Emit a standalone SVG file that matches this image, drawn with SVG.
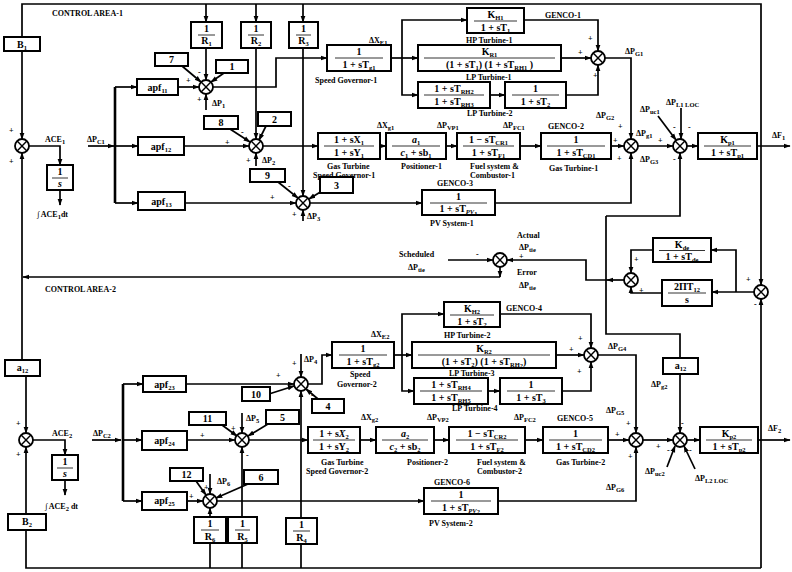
<svg xmlns="http://www.w3.org/2000/svg" xmlns:xlink="http://www.w3.org/1999/xlink" width="792" height="572" viewBox="0 0 792 572">
<style>
text{font-family:"Liberation Serif","DejaVu Serif",serif;font-weight:bold;fill:#000}
.b{font-size:10px;text-anchor:middle}
.l{font-size:8px}
.s{font-size:6.5px}
.i{font-style:italic}
.bx{fill:#fff;stroke:#000;stroke-width:2}
.fl{stroke:#000;stroke-width:0.8}
#connectors path{fill:none;stroke:#000;stroke-width:1.7}
#connectors .k{stroke-width:2.6}
</style>
<defs>
<marker id="ar" viewBox="0 0 10 10" refX="9" refY="5" markerWidth="7" markerHeight="7" markerUnits="userSpaceOnUse" orient="auto"><path d="M0,1.5L10,5L0,8.5z" fill="#000"/></marker>
<g id="sm"><circle r="7" fill="#fff" stroke="#000" stroke-width="1.8"/><path d="M-4.9,-4.9L4.9,4.9M4.9,-4.9L-4.9,4.9" stroke="#000" stroke-width="1.4"/></g>
</defs>
<rect width="792" height="572" fill="#fff"/>

<g id="connectors">
<path d="M761,146V4H22V37"/>
<path d="M206,4V22" marker-end="url(#ar)"/>
<path d="M256,4V22" marker-end="url(#ar)"/>
<path d="M303,4V22" marker-end="url(#ar)"/>
<path d="M22,51V139" marker-end="url(#ar)"/>
<path d="M22,277V153" marker-end="url(#ar)"/>
<path d="M22,277V360"/>
<path d="M29,146H60V165" marker-end="url(#ar)"/>
<path d="M60,190V205" marker-end="url(#ar)"/>
<path d="M88,146H114" marker-end="url(#ar)"/>
<path class="k" d="M115,87V203"/>
<path d="M115,87H137" marker-end="url(#ar)"/>
<path d="M115,146H138" marker-end="url(#ar)"/>
<path d="M115,203H138" marker-end="url(#ar)"/>
<path d="M206,48V80" marker-end="url(#ar)"/>
<path d="M182,66L201,82" marker-end="url(#ar)"/>
<path d="M224,73L211,82" marker-end="url(#ar)"/>
<path d="M178,87H199" marker-end="url(#ar)"/>
<path d="M206,110V94" marker-end="url(#ar)"/>
<path d="M213,87H276V58H327" marker-end="url(#ar)"/>
<path d="M256,48V139" marker-end="url(#ar)"/>
<path d="M230,129L250,142" marker-end="url(#ar)"/>
<path d="M266,126L259,140" marker-end="url(#ar)"/>
<path d="M184,146H249" marker-end="url(#ar)"/>
<path d="M256,166V153" marker-end="url(#ar)"/>
<path d="M263,146H318" marker-end="url(#ar)"/>
<path d="M303,48V196" marker-end="url(#ar)"/>
<path d="M278,182L298,198" marker-end="url(#ar)"/>
<path d="M322,191L309,199" marker-end="url(#ar)"/>
<path d="M185,203H296" marker-end="url(#ar)"/>
<path d="M303,221V210" marker-end="url(#ar)"/>
<path d="M310,203H422" marker-end="url(#ar)"/>
<path d="M391,58H418" marker-end="url(#ar)"/>
<path d="M402,58V20H467" marker-end="url(#ar)"/>
<path d="M402,58V95H418" marker-end="url(#ar)"/>
<path d="M490,95H505" marker-end="url(#ar)"/>
<path d="M524,20H598V51" marker-end="url(#ar)"/>
<path d="M561,58H591" marker-end="url(#ar)"/>
<path d="M566,95H598V65" marker-end="url(#ar)"/>
<path d="M605,58H631V139" marker-end="url(#ar)"/>
<path d="M380,146H386" marker-end="url(#ar)"/>
<path d="M446,146H457" marker-end="url(#ar)"/>
<path d="M520,146H541" marker-end="url(#ar)"/>
<path d="M611,146H624" marker-end="url(#ar)"/>
<path d="M495,203H631V153" marker-end="url(#ar)"/>
<path d="M638,146H673" marker-end="url(#ar)"/>
<path d="M658,116L676,140" marker-end="url(#ar)"/>
<path d="M681,108V139" marker-end="url(#ar)"/>
<path d="M687,146H698" marker-end="url(#ar)"/>
<path d="M757,146H790" marker-end="url(#ar)"/>
<path d="M761,146V285" marker-end="url(#ar)"/>
<path d="M761,568V299" marker-end="url(#ar)"/>
<path d="M754,292H712" marker-end="url(#ar)"/>
<path d="M736,292V250H711" marker-end="url(#ar)"/>
<path d="M653,250H631V273" marker-end="url(#ar)"/>
<path d="M662,293H631V287" marker-end="url(#ar)"/>
<path d="M624,280H607" marker-end="url(#ar)"/>
<path d="M607,280H586V260H507" marker-end="url(#ar)"/>
<path d="M448,260H493" marker-end="url(#ar)"/>
<path d="M500,267V277" marker-end="url(#ar)"/>
<path d="M500,277H23" marker-end="url(#ar)"/>
<path d="M606,216H680V153" marker-end="url(#ar)"/>
<path d="M606,216V334H680V358"/>
<path d="M680,374V433" marker-end="url(#ar)"/>
<path d="M26,376V433" marker-end="url(#ar)"/>
<path d="M761,568H26V530"/>
<path d="M26,514V447" marker-end="url(#ar)"/>
<path d="M33,440H65V455" marker-end="url(#ar)"/>
<path d="M65,480V495" marker-end="url(#ar)"/>
<path d="M92,440H121" marker-end="url(#ar)"/>
<path class="k" d="M123,384V501"/>
<path d="M123,384H143" marker-end="url(#ar)"/>
<path d="M123,440H142" marker-end="url(#ar)"/>
<path d="M123,501H142" marker-end="url(#ar)"/>
<path d="M186,384H294" marker-end="url(#ar)"/>
<path d="M269,394L294,386" marker-end="url(#ar)"/>
<path d="M318,399L306,389" marker-end="url(#ar)"/>
<path d="M301,354V377" marker-end="url(#ar)"/>
<path d="M301,518V391" marker-end="url(#ar)"/>
<path d="M308,384H322V355H332" marker-end="url(#ar)"/>
<path d="M187,440H235" marker-end="url(#ar)"/>
<path d="M222,425L237,436" marker-end="url(#ar)"/>
<path d="M268,424L248,436" marker-end="url(#ar)"/>
<path d="M242,413V433" marker-end="url(#ar)"/>
<path d="M242,517V447" marker-end="url(#ar)"/>
<path d="M249,440H308" marker-end="url(#ar)"/>
<path d="M187,501H203" marker-end="url(#ar)"/>
<path d="M196,481L206,495" marker-end="url(#ar)"/>
<path d="M248,484L216,498" marker-end="url(#ar)"/>
<path d="M210,474V494" marker-end="url(#ar)"/>
<path d="M210,517V508" marker-end="url(#ar)"/>
<path d="M217,501H424" marker-end="url(#ar)"/>
<path d="M210,568V543"/>
<path d="M242,568V543"/>
<path d="M301,568V544"/>
<path d="M394,355H412" marker-end="url(#ar)"/>
<path d="M402,355V314H444" marker-end="url(#ar)"/>
<path d="M402,355V391H414" marker-end="url(#ar)"/>
<path d="M488,391H500" marker-end="url(#ar)"/>
<path d="M500,314H591V348" marker-end="url(#ar)"/>
<path d="M556,355H584" marker-end="url(#ar)"/>
<path d="M562,391H591V362" marker-end="url(#ar)"/>
<path d="M598,355H636V433" marker-end="url(#ar)"/>
<path d="M360,440H376" marker-end="url(#ar)"/>
<path d="M434,440H449" marker-end="url(#ar)"/>
<path d="M525,440H543" marker-end="url(#ar)"/>
<path d="M608,440H629" marker-end="url(#ar)"/>
<path d="M498,501H636V447" marker-end="url(#ar)"/>
<path d="M643,440H673" marker-end="url(#ar)"/>
<path d="M667,467L675,446" marker-end="url(#ar)"/>
<path d="M695,469L684,446" marker-end="url(#ar)"/>
<path d="M687,440H700" marker-end="url(#ar)"/>
<path d="M758,440H790" marker-end="url(#ar)"/>
</g>

<g id="sum-ace1"><use xlink:href="#sm" x="22" y="146"/></g>
<g id="sum-p1"><use xlink:href="#sm" x="206" y="87"/></g>
<g id="sum-p2"><use xlink:href="#sm" x="256" y="146"/></g>
<g id="sum-p3"><use xlink:href="#sm" x="303" y="203"/></g>
<g id="sum-genco1"><use xlink:href="#sm" x="598" y="58"/></g>
<g id="sum-pg1"><use xlink:href="#sm" x="631" y="146"/></g>
<g id="sum-l1"><use xlink:href="#sm" x="680" y="146"/></g>
<g id="sum-tie-f"><use xlink:href="#sm" x="761" y="292"/></g>
<g id="sum-tie"><use xlink:href="#sm" x="631" y="280"/></g>
<g id="sum-err"><use xlink:href="#sm" x="500" y="260"/></g>
<g id="sum-ace2"><use xlink:href="#sm" x="26" y="440"/></g>
<g id="sum-p4"><use xlink:href="#sm" x="301" y="384"/></g>
<g id="sum-p5"><use xlink:href="#sm" x="242" y="440"/></g>
<g id="sum-p6"><use xlink:href="#sm" x="210" y="501"/></g>
<g id="sum-genco4"><use xlink:href="#sm" x="591" y="355"/></g>
<g id="sum-pg2"><use xlink:href="#sm" x="636" y="440"/></g>
<g id="sum-l2"><use xlink:href="#sm" x="680" y="440"/></g>

<g id="b1"><rect class="bx" x="4" y="37" width="36" height="14"/><text class="b" x="22" y="47.5">B<tspan class="s" dy="2">1</tspan></text></g>
<g id="r1"><rect class="bx" x="191" y="22" width="31" height="26"/><text class="b" x="206.5" y="32">1</text><line class="fl" x1="198" x2="215" y1="35" y2="35"/><text class="b" x="206.5" y="44">R<tspan class="s" dy="2">1</tspan></text></g>
<g id="r2"><rect class="bx" x="241" y="22" width="30" height="26"/><text class="b" x="256" y="32">1</text><line class="fl" x1="248" x2="264" y1="35" y2="35"/><text class="b" x="256" y="44">R<tspan class="s" dy="2">2</tspan></text></g>
<g id="r3"><rect class="bx" x="289" y="22" width="29" height="26"/><text class="b" x="303.5" y="32">1</text><line class="fl" x1="296" x2="311" y1="35" y2="35"/><text class="b" x="303.5" y="44">R<tspan class="s" dy="2">3</tspan></text></g>
<g id="n7"><rect class="bx" x="155" y="53" width="33" height="13"/><text class="b" x="171.5" y="63">7</text></g>
<g id="n1"><rect class="bx" x="216" y="60" width="32" height="13"/><text class="b" x="232" y="70">1</text></g>
<g id="apf11"><rect class="bx" x="137" y="79" width="41" height="16"/><text class="b" x="157.5" y="90.5">apf<tspan class="s" dy="2">11</tspan></text></g>
<g id="n8"><rect class="bx" x="204" y="116" width="34" height="13"/><text class="b" x="221" y="126">8</text></g>
<g id="n2"><rect class="bx" x="258" y="112" width="33" height="14"/><text class="b" x="274.5" y="122.5">2</text></g>
<g id="apf12"><rect class="bx" x="138" y="137" width="46" height="18"/><text class="b" x="161" y="149.5">apf<tspan class="s" dy="2">12</tspan></text></g>
<g id="n9"><rect class="bx" x="250" y="169" width="35" height="13"/><text class="b" x="267.5" y="179">9</text></g>
<g id="n3"><rect class="bx" x="320" y="177" width="33" height="16"/><text class="b" x="336.5" y="189">3</text></g>
<g id="apf13"><rect class="bx" x="138" y="192" width="47" height="18"/><text class="b" x="161.5" y="204.5">apf<tspan class="s" dy="2">13</tspan></text></g>
<g id="int1"><rect class="bx" x="47" y="165" width="26" height="25"/><text class="b" x="60" y="175">1</text><line class="fl" x1="52" x2="68" y1="178" y2="178"/><text class="b i" x="60" y="187">s</text></g>
<g id="gov1"><rect class="bx" x="327" y="45" width="64" height="26"/><text class="b" x="359" y="55">1</text><line class="fl" x1="335" x2="383" y1="58" y2="58"/><text class="b" x="359" y="67.5">1 + sT<tspan class="s" dy="2">g1</tspan></text></g>
<g id="hp1"><rect class="bx" x="467" y="8" width="57" height="25"/><text class="b" x="495.5" y="18">K<tspan class="s" dy="2">H1</tspan></text><line class="fl" x1="474" x2="517" y1="21" y2="21"/><text class="b" x="495.5" y="30.5">1 + sT<tspan class="s" dy="2">1</tspan></text></g>
<g id="lp1"><rect class="bx" x="418" y="45" width="143" height="26"/><text class="b" x="489.5" y="55">K<tspan class="s" dy="2">R1</tspan></text><line class="fl" x1="424" x2="555" y1="58" y2="58"/><text class="b" x="489.5" y="67.5">(1 + sT<tspan class="s" dy="2">1</tspan><tspan dy="-2">) (1 +  sT</tspan><tspan class="s" dy="2">RH1</tspan><tspan dy="-2"> )</tspan></text></g>
<g id="lp2a"><rect class="bx" x="418" y="82" width="72" height="26"/><text class="b" x="454" y="92">1 + sT<tspan class="s" dy="2">RH2</tspan></text><line class="fl" x1="424" x2="484" y1="95" y2="95"/><text class="b" x="454" y="104.5">1 + sT<tspan class="s" dy="2">RH3</tspan></text></g>
<g id="lp2b"><rect class="bx" x="505" y="82" width="61" height="26"/><text class="b" x="535.5" y="92">1</text><line class="fl" x1="512" x2="559" y1="95" y2="95"/><text class="b" x="535.5" y="104.5">1 + sT<tspan class="s" dy="2">2</tspan></text></g>
<g id="ggov1"><rect class="bx" x="318" y="133" width="62" height="26"/><text class="b" x="349" y="143">1 + sX<tspan class="s" dy="2">1</tspan></text><line class="fl" x1="324" x2="374" y1="146" y2="146"/><text class="b" x="349" y="155.5">1 + sY<tspan class="s" dy="2">1</tspan></text></g>
<g id="pos1"><rect class="bx" x="386" y="133" width="60" height="26"/><text class="b" x="416" y="143"><tspan class="i">a</tspan><tspan class="s" dy="2">1</tspan></text><line class="fl" x1="392" x2="440" y1="146" y2="146"/><text class="b" x="416" y="155.5"><tspan class="i">c</tspan><tspan class="s" dy="2">1</tspan><tspan dy="-2"> + sb</tspan><tspan class="s" dy="2">1</tspan></text></g>
<g id="fuel1"><rect class="bx" x="457" y="133" width="63" height="26"/><text class="b" x="488.5" y="143">1 − sT<tspan class="s" dy="2">CR1</tspan></text><line class="fl" x1="463" x2="514" y1="146" y2="146"/><text class="b" x="488.5" y="155.5">1 + sT<tspan class="s" dy="2">F1</tspan></text></g>
<g id="genco2"><rect class="bx" x="541" y="133" width="70" height="26"/><text class="b" x="576" y="143">1</text><line class="fl" x1="547" x2="605" y1="146" y2="146"/><text class="b" x="576" y="155.5">1 + sT<tspan class="s" dy="2">CD1</tspan></text></g>
<g id="pv1"><rect class="bx" x="422" y="190" width="73" height="25"/><text class="b" x="458.5" y="200">1</text><line class="fl" x1="430" x2="487" y1="203" y2="203"/><text class="b" x="458.5" y="212">1 + sT<tspan class="s i" dy="2">PV</tspan><tspan class="s" dy="1.5" font-size="5">1</tspan></text></g>
<g id="kp1"><rect class="bx" x="698" y="133" width="59" height="26"/><text class="b" x="727.5" y="143">K<tspan class="s" dy="2">p1</tspan></text><line class="fl" x1="704" x2="751" y1="146" y2="146"/><text class="b" x="727.5" y="155.5">1 + sT<tspan class="s" dy="2">p1</tspan></text></g>
<g id="kde"><rect class="bx" x="653" y="238" width="58" height="24"/><text class="b" x="682" y="247.5">K<tspan class="s" dy="2">de</tspan></text><line class="fl" x1="659" x2="705" y1="250.5" y2="250.5"/><text class="b" x="682" y="259.5">1 + sT<tspan class="s" dy="2">de</tspan></text></g>
<g id="tie"><rect class="bx" x="662" y="280" width="50" height="26"/><text class="b" x="687" y="290">2ΠT<tspan class="s" dy="2">12</tspan></text><line class="fl" x1="668" x2="706" y1="293" y2="293"/><text class="b" x="687" y="302.5">s</text></g>
<g id="a12-1"><rect class="bx" x="663" y="358" width="35" height="16"/><text class="b" x="680.5" y="369">a<tspan class="s" dy="2">12</tspan></text></g>

<g id="a12-2"><rect class="bx" x="5" y="360" width="35" height="16"/><text class="b" x="22.5" y="371">a<tspan class="s" dy="2">12</tspan></text></g>
<g id="int2"><rect class="bx" x="52" y="455" width="26" height="25"/><text class="b" x="65" y="465">1</text><line class="fl" x1="57" x2="73" y1="468" y2="468"/><text class="b i" x="65" y="477">s</text></g>
<g id="b2"><rect class="bx" x="8" y="514" width="38" height="16"/><text class="b" x="27" y="525">B<tspan class="s" dy="2">2</tspan></text></g>
<g id="apf23"><rect class="bx" x="143" y="376" width="43" height="16"/><text class="b" x="164.5" y="387.5">apf<tspan class="s" dy="2">23</tspan></text></g>
<g id="apf24"><rect class="bx" x="142" y="431" width="45" height="19"/><text class="b" x="164.5" y="443.5">apf<tspan class="s" dy="2">24</tspan></text></g>
<g id="apf25"><rect class="bx" x="142" y="492" width="45" height="18"/><text class="b" x="164.5" y="504">apf<tspan class="s" dy="2">25</tspan></text></g>
<g id="n10"><rect class="bx" x="242" y="387" width="28" height="14"/><text class="b" x="256" y="397.5">10</text></g>
<g id="n4"><rect class="bx" x="312" y="399" width="32" height="14"/><text class="b" x="328" y="409.5">4</text></g>
<g id="n11"><rect class="bx" x="189" y="412" width="37" height="13"/><text class="b" x="207.5" y="422">11</text></g>
<g id="n5"><rect class="bx" x="266" y="410" width="33" height="14"/><text class="b" x="282.5" y="420.5">5</text></g>
<g id="n12"><rect class="bx" x="170" y="468" width="33" height="13"/><text class="b" x="186.5" y="478">12</text></g>
<g id="n6"><rect class="bx" x="244" y="470" width="34" height="14"/><text class="b" x="261" y="480.5">6</text></g>
<g id="r6"><rect class="bx" x="194" y="517" width="32" height="26"/><text class="b" x="210" y="527">1</text><line class="fl" x1="201" x2="219" y1="530" y2="530"/><text class="b" x="210" y="539.5">R<tspan class="s" dy="2">6</tspan></text></g>
<g id="r5"><rect class="bx" x="228" y="517" width="29" height="26"/><text class="b" x="242.5" y="527">1</text><line class="fl" x1="235" x2="250" y1="530" y2="530"/><text class="b" x="242.5" y="539.5">R<tspan class="s" dy="2">5</tspan></text></g>
<g id="r4"><rect class="bx" x="286" y="518" width="31" height="26"/><text class="b" x="301.5" y="528">1</text><line class="fl" x1="293" x2="310" y1="531" y2="531"/><text class="b" x="301.5" y="540.5">R<tspan class="s" dy="2">4</tspan></text></g>
<g id="gov2"><rect class="bx" x="332" y="342" width="62" height="26"/><text class="b" x="363" y="352">1</text><line class="fl" x1="339" x2="387" y1="355" y2="355"/><text class="b" x="363" y="364.5">1 + sT<tspan class="s" dy="2">g2</tspan></text></g>
<g id="hp2"><rect class="bx" x="444" y="302" width="56" height="25"/><text class="b" x="472" y="312">K<tspan class="s" dy="2">H2</tspan></text><line class="fl" x1="450" x2="494" y1="315" y2="315"/><text class="b" x="472" y="324.5">1 + sT<tspan class="s" dy="2">2</tspan></text></g>
<g id="lp3"><rect class="bx" x="412" y="342" width="144" height="26"/><text class="b" x="484" y="352">K<tspan class="s" dy="2">R2</tspan></text><line class="fl" x1="418" x2="550" y1="355" y2="355"/><text class="b" x="484" y="364.5">(1 + sT<tspan class="s" dy="2">2</tspan><tspan dy="-2">) (1 +  sT</tspan><tspan class="s" dy="2">RH</tspan><tspan class="s" dy="1.5" font-size="5">2</tspan><tspan dy="-3.5">)</tspan></text></g>
<g id="lp4a"><rect class="bx" x="414" y="378" width="74" height="26"/><text class="b" x="451" y="388">1 + sT<tspan class="s" dy="2">RH4</tspan></text><line class="fl" x1="420" x2="482" y1="391" y2="391"/><text class="b" x="451" y="400.5">1 + sT<tspan class="s" dy="2">RH5</tspan></text></g>
<g id="lp4b"><rect class="bx" x="500" y="378" width="62" height="26"/><text class="b" x="531" y="388">1</text><line class="fl" x1="507" x2="555" y1="391" y2="391"/><text class="b" x="531" y="400.5">1 + sT<tspan class="s" dy="2">3</tspan></text></g>
<g id="ggov2"><rect class="bx" x="308" y="427" width="52" height="26"/><text class="b" x="334" y="437">1 + s<tspan class="i">X</tspan><tspan class="s" dy="2">2</tspan></text><line class="fl" x1="313" x2="355" y1="440" y2="440"/><text class="b" x="334" y="449.5">1 + sY<tspan class="s" dy="2">2</tspan></text></g>
<g id="pos2"><rect class="bx" x="376" y="427" width="58" height="26"/><text class="b" x="405" y="437"><tspan class="i">a</tspan><tspan class="s" dy="2">2</tspan></text><line class="fl" x1="382" x2="428" y1="440" y2="440"/><text class="b" x="405" y="449.5"><tspan class="i">c</tspan><tspan class="s" dy="2">2</tspan><tspan dy="-2"> + sb</tspan><tspan class="s" dy="2">2</tspan></text></g>
<g id="fuel2"><rect class="bx" x="449" y="427" width="76" height="26"/><text class="b" x="487" y="437">1 − sT<tspan class="s" dy="2">CR2</tspan></text><line class="fl" x1="456" x2="518" y1="440" y2="440"/><text class="b" x="487" y="449.5">1 + sT<tspan class="s" dy="2">F2</tspan></text></g>
<g id="genco5"><rect class="bx" x="543" y="427" width="65" height="26"/><text class="b" x="575.5" y="437">1</text><line class="fl" x1="549" x2="602" y1="440" y2="440"/><text class="b" x="575.5" y="449.5">1 + sT<tspan class="s" dy="2">CD2</tspan></text></g>
<g id="pv2"><rect class="bx" x="424" y="488" width="74" height="26"/><text class="b" x="461" y="498">1</text><line class="fl" x1="431" x2="491" y1="501" y2="501"/><text class="b" x="461" y="510.5">1 + sT<tspan class="s i" dy="2">PV</tspan><tspan class="s" dy="1.5" font-size="5">2</tspan></text></g>
<g id="kp2"><rect class="bx" x="700" y="427" width="58" height="26"/><text class="b" x="729" y="437">K<tspan class="s" dy="2">p2</tspan></text><line class="fl" x1="706" x2="752" y1="440" y2="440"/><text class="b" x="729" y="449.5">1 + sT<tspan class="s" dy="2">p2</tspan></text></g>

<g id="labels">
<text class="l" x="52" y="16">CONTROL AREA-1</text>
<text class="l" x="45" y="292">CONTROL AREA-2</text>
<text class="l" x="9" y="133">+</text>
<text class="l" x="9" y="164">+</text>
<text class="l" x="45" y="142">ACE<tspan class="s" dy="2">1</tspan></text>
<text class="l" x="87" y="142">ΔP<tspan class="s" dy="2">C1</tspan></text>
<text class="l" x="37" y="217">∫ ACE<tspan class="s" dy="2">1</tspan><tspan dy="-2">dt</tspan></text>
<text class="l" x="198" y="75">-</text>
<text class="l" x="186" y="83">+</text>
<text class="l" x="197" y="102">+</text>
<text class="l" x="212" y="106">ΔP<tspan class="s" dy="2">1</tspan></text>
<text class="l" x="241" y="135">-</text>
<text class="l" x="225" y="145">+</text>
<text class="l" x="246" y="163">+</text>
<text class="l" x="262" y="163">ΔP<tspan class="s" dy="2">2</tspan></text>
<text class="l" x="288" y="189">-</text>
<text class="l" x="270" y="200">+</text>
<text class="l" x="292" y="217">+</text>
<text class="l" x="307" y="219">ΔP<tspan class="s" dy="2">3</tspan></text>
<text class="l" x="369" y="43">ΔX<tspan class="s" dy="2">E1</tspan></text>
<text class="l" x="315" y="83">Speed Governor-1</text>
<text class="l" x="466" y="43">HP Turbine-1</text>
<text class="l" x="545" y="18">GENCO-1</text>
<text class="l" x="466" y="79.5">LP Turbine-1</text>
<text class="l" x="467" y="116">LP Turbine-2</text>
<text class="l" x="588" y="41">+</text>
<text class="l" x="578" y="55">+</text>
<text class="l" x="593" y="78">+</text>
<text class="l" x="625" y="54">ΔP<tspan class="s" dy="2">G1</tspan></text>
<text class="l" x="377" y="128">ΔX<tspan class="s" dy="2">g1</tspan></text>
<text class="l" x="437" y="128">ΔP<tspan class="s" dy="2">VP1</tspan></text>
<text class="l" x="503" y="128">ΔP<tspan class="s" dy="2">FC1</tspan></text>
<text class="l" x="548" y="129">GENCO-2</text>
<text class="l" x="596" y="118">ΔP<tspan class="s" dy="2">G2</tspan></text>
<text class="l" x="618" y="129">+</text>
<text class="l" x="613" y="143">+</text>
<text class="l" x="636" y="136">ΔP<tspan class="s" dy="2">g1</tspan></text>
<text class="l" x="640" y="112">ΔP<tspan class="s" dy="2">uc1</tspan></text>
<text class="l" x="666" y="105">ΔP<tspan class="s" dy="2">L1 LOC</tspan></text>
<text class="l" x="673" y="130">-</text>
<text class="l" x="688" y="130">-</text>
<text class="l" x="658" y="143">+</text>
<text class="l" x="772" y="138">ΔF<tspan class="s" dy="2">1</tspan></text>
<text class="l" x="327" y="169">Gas Turbine</text>
<text class="l" x="313" y="178">Speed Governor-1</text>
<text class="l" x="401" y="169">Positioner-1</text>
<text class="l" x="470" y="169">Fuel system &amp;</text>
<text class="l" x="470" y="178">Combustor-1</text>
<text class="l" x="549" y="171">Gas Turbine-1</text>
<text class="l" x="617" y="161">+</text>
<text class="l" x="640" y="162">ΔP<tspan class="s" dy="2">G3</tspan></text>
<text class="l" x="673" y="162">-</text>
<text class="l" x="437" y="186">GENCO-3</text>
<text class="l" x="430" y="226">PV System-1</text>
<text class="l" x="399" y="257">Scheduled</text>
<text class="l" x="408" y="270">ΔP<tspan class="s" dy="2">tie</tspan></text>
<text class="l" x="476" y="257">-</text>
<text class="l" x="517" y="238">Actual</text>
<text class="l" x="519" y="250">ΔP<tspan class="s" dy="2">tie</tspan></text>
<text class="l" x="519" y="259">+</text>
<text class="l" x="517" y="275">Error</text>
<text class="l" x="519" y="288">ΔP<tspan class="s" dy="2">tie</tspan></text>
<text class="l" x="634" y="262">+</text>
<text class="l" x="639" y="293">+</text>
<text class="l" x="746" y="282">+</text>
<text class="l" x="754" y="307">-</text>
<text class="l" x="16" y="426">+</text>
<text class="l" x="16" y="457">+</text>
<text class="l" x="52" y="436">ACE<tspan class="s" dy="2">2</tspan></text>
<text class="l" x="93" y="436">ΔP<tspan class="s" dy="2">C2</tspan></text>
<text class="l" x="45" y="509">∫ ACE<tspan class="s" dy="2">2</tspan><tspan dy="-2"> dt</tspan></text>
<text class="l" x="276" y="378">+</text>
<text class="l" x="292" y="366">+</text>
<text class="l" x="304" y="362">ΔP<tspan class="s" dy="2">4</tspan></text>
<text class="l" x="311" y="398">-</text>
<text class="l" x="231" y="431">+</text>
<text class="l" x="246" y="421">ΔP<tspan class="s" dy="2">5</tspan></text>
<text class="l" x="200" y="438">+</text>
<text class="l" x="246" y="458">-</text>
<text class="l" x="189" y="499">+</text>
<text class="l" x="204" y="490">+</text>
<text class="l" x="217" y="484">ΔP<tspan class="s" dy="2">6</tspan></text>
<text class="l" x="371" y="337">ΔX<tspan class="s" dy="2">E2</tspan></text>
<text class="l" x="350" y="377">Speed</text>
<text class="l" x="337" y="387">Governor-2</text>
<text class="l" x="444" y="338">HP Turbine-2</text>
<text class="l" x="506" y="311">GENCO-4</text>
<text class="l" x="449" y="376">LP Turbine-3</text>
<text class="l" x="452" y="411">LP Turbine-4</text>
<text class="l" x="578" y="341">+</text>
<text class="l" x="569" y="352">+</text>
<text class="l" x="577" y="374">+</text>
<text class="l" x="608" y="349">ΔP<tspan class="s" dy="2">G4</tspan></text>
<text class="l" x="651" y="387">ΔP<tspan class="s" dy="2">g2</tspan></text>
<text class="l" x="606" y="413">ΔP<tspan class="s" dy="2">G5</tspan></text>
<text class="l" x="626" y="426">+</text>
<text class="l" x="681" y="426">-</text>
<text class="l" x="768" y="431">ΔF<tspan class="s" dy="2">2</tspan></text>
<text class="l" x="361" y="420">ΔX<tspan class="s" dy="2">g2</tspan></text>
<text class="l" x="427" y="420">ΔP<tspan class="s" dy="2">VP2</tspan></text>
<text class="l" x="514" y="420">ΔP<tspan class="s" dy="2">FC2</tspan></text>
<text class="l" x="557" y="421">GENCO-5</text>
<text class="l" x="321" y="465">Gas Turbine</text>
<text class="l" x="306" y="474">Speed Governor-2</text>
<text class="l" x="407" y="465">Positioner-2</text>
<text class="l" x="477" y="465">Fuel system &amp;</text>
<text class="l" x="477" y="474">Combustor-2</text>
<text class="l" x="556" y="465">Gas Turbine-2</text>
<text class="l" x="615" y="437">+</text>
<text class="l" x="628" y="459">+</text>
<text class="l" x="606" y="490">ΔP<tspan class="s" dy="2">G6</tspan></text>
<text class="l" x="656" y="449">+</text>
<text class="l" x="667" y="453">-</text>
<text class="l" x="689" y="453">-</text>
<text class="l" x="645" y="474">ΔP<tspan class="s" dy="2">uc2</tspan></text>
<text class="l" x="695" y="481">ΔP<tspan class="s" dy="2">L2 LOC</tspan></text>
<text class="l" x="434" y="485">GENCO-6</text>
<text class="l" x="429" y="526">PV System-2</text>
</g>
</svg>
